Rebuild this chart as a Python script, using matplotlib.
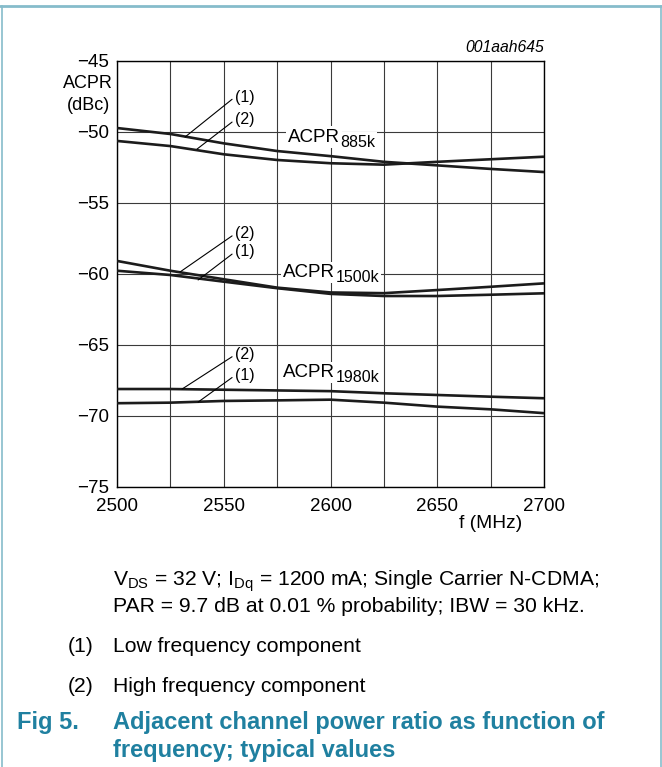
"""
ACPR vs frecuencia (Fig 5) - componentes de baja y alta frecuencia
para las tres separaciones de canal. Guarda out.png.
"""
import matplotlib
matplotlib.use("Agg")
import matplotlib.pyplot as plt
from matplotlib.lines import Line2D

plt.rcParams["font.family"] = ["Liberation Sans", "DejaVu Sans"]
plt.rcParams["mathtext.fontset"] = "custom"
plt.rcParams["mathtext.rm"] = "Liberation Sans"

W, H = 662, 767

freq = [2500, 2525, 2550, 2575, 2600, 2625, 2650, 2675, 2700]

# (1) low frequency component, (2) high frequency component
acpr885_1 = [-49.72, -50.14, -50.80, -51.34, -51.70, -52.10, -52.35, -52.60, -52.82]
acpr885_2 = [-50.63, -50.99, -51.57, -51.97, -52.20, -52.30, -52.10, -51.92, -51.74]
acpr1500_1 = [-59.77, -60.07, -60.54, -61.00, -61.40, -61.55, -61.55, -61.46, -61.36]
acpr1500_2 = [-59.08, -59.77, -60.37, -60.96, -61.30, -61.35, -61.13, -60.90, -60.66]
acpr1980_1 = [-69.10, -69.06, -68.94, -68.90, -68.85, -69.06, -69.34, -69.53, -69.80]
acpr1980_2 = [-68.10, -68.10, -68.15, -68.20, -68.25, -68.40, -68.52, -68.64, -68.75]

x_ticks = [2500, 2550, 2600, 2650, 2700]
y_ticks = [-75, -70, -65, -60, -55, -50, -45]

TEAL = "#1f80a0"
BORDER = "#86bccb"

# escala aproximada del eje en pixeles
PX_F = 427 / 200.0   # px por MHz
PX_V = 426 / 30.0    # px por dB


def px(x, y):
    # pixel (desde arriba-izquierda) -> fraccion de figura
    return x / W, 1 - y / H


def main():
    fig = plt.figure(figsize=(W / 100, H / 100), dpi=100)
    ax = fig.add_axes([117 / W, 1 - 487 / H, (544 - 117) / W, (487 - 61) / H])

    # rejilla cada 25 MHz y cada 5 dB
    ax.set_xlim(2500, 2700)
    ax.set_ylim(-75, -45)
    ax.set_xticks(range(2500, 2701, 25), minor=True)
    ax.set_xticks(x_ticks)
    ax.set_yticks(y_ticks)
    ax.set_yticklabels(["\u2212%d" % abs(v) for v in y_ticks])
    ax.grid(True, which="both", color="#3a3a3a", lw=0.8)
    ax.set_axisbelow(True)
    ax.tick_params(which="both", length=0, labelsize=13.5)
    ax.tick_params(axis="y", pad=6)
    ax.tick_params(axis="x", pad=8)
    for s in ax.spines.values():
        s.set_linewidth(1.0)
        s.set_color("black")

    curve_kw = dict(color="#1c1c1c", lw=1.9, zorder=3, solid_capstyle="butt")
    for series in (acpr885_1, acpr885_2, acpr1500_1, acpr1500_2,
                   acpr1980_1, acpr1980_2):
        ax.plot(freq, series, **curve_kw)

    # etiquetas de curva con caja blanca que tapa la rejilla
    box = dict(facecolor="white", edgecolor="none", pad=1.5)
    for f0, v0, sub in [(2580.2, -50.67, "885k"),
                        (2577.9, -60.23, "1500k"),
                        (2577.9, -67.28, "1980k")]:
        ax.text(f0, v0, "ACPR", fontsize=13.5, ha="left", va="baseline",
                bbox=box, zorder=2.5)
        ax.text(f0 + 52 / PX_F, v0 - 5 / PX_V, sub, fontsize=11.5,
                ha="left", va="baseline", bbox=box, zorder=2.5)

    # lineas guia (1)/(2)
    leaders = [
        ("(1)", 2531.9, -50.35, -47.54),
        ("(2)", 2537.5, -51.20, -49.15),
        ("(2)", 2529.5, -59.86, -57.18),
        ("(1)", 2538.0, -60.42, -58.45),
        ("(2)", 2530.5, -68.10, -65.70),
        ("(1)", 2538.0, -69.02, -67.15),
    ]
    for lab, fx, vy, vt in leaders:
        ax.annotate(lab, xy=(fx, vy), xytext=(2555.2, vt), fontsize=11.5,
                    ha="left", va="center",
                    arrowprops=dict(arrowstyle="-", lw=0.8, color="black",
                                    shrinkA=0, shrinkB=0,
                                    relpos=(0, 0.5)),
                    zorder=4)

    fig.text(*px(544, 48), "001aah645", fontsize=11.3, style="italic",
             ha="right", va="center")
    fig.text(*px(88, 84), "ACPR", fontsize=13, ha="center", va="center")
    fig.text(*px(88, 106), "(dBc)", fontsize=13, ha="center", va="center")
    fig.text(*px(491, 524), "f (MHz)", fontsize=13.8, ha="center",
             va="center")

    # notas al pie
    cap = 15.2
    fig.text(*px(113, 581),
             r"V$_{\mathrm{DS}}$ = 32 V; I$_{\mathrm{Dq}}$ = 1200 mA; "
             "Single Carrier N-CDMA;", fontsize=cap, ha="left", va="center")
    fig.text(*px(113, 607),
             "PAR = 9.7 dB at 0.01 % probability; IBW = 30 kHz.",
             fontsize=cap, ha="left", va="center")
    fig.text(*px(68, 646), "(1)", fontsize=cap, ha="left", va="center")
    fig.text(*px(113, 646), "Low frequency component", fontsize=cap,
             ha="left", va="center")
    fig.text(*px(68, 686), "(2)", fontsize=cap, ha="left", va="center")
    fig.text(*px(113, 686), "High frequency component", fontsize=cap,
             ha="left", va="center")

    tt = 17
    fig.text(*px(17, 722), "Fig 5.", fontsize=tt, weight="bold",
             color=TEAL, ha="left", va="center")
    fig.text(*px(113, 722), "Adjacent channel power ratio as function of",
             fontsize=tt, weight="bold", color=TEAL, ha="left", va="center")
    fig.text(*px(113, 750), "frequency; typical values",
             fontsize=tt, weight="bold", color=TEAL, ha="left", va="center")

    # marco exterior
    for xs, ys, lw in [((0, W), (6, 6), 2.0),
                       ((1.5, 1.5), (6, H), 1.2),
                       ((W - 1.5, W - 1.5), (6, H), 1.2)]:
        fig.add_artist(Line2D([x / W for x in xs], [1 - y / H for y in ys],
                              transform=fig.transFigure, color=BORDER, lw=lw))

    fig.savefig("out.png", dpi=100)
    plt.close(fig)


if __name__ == "__main__":
    main()
